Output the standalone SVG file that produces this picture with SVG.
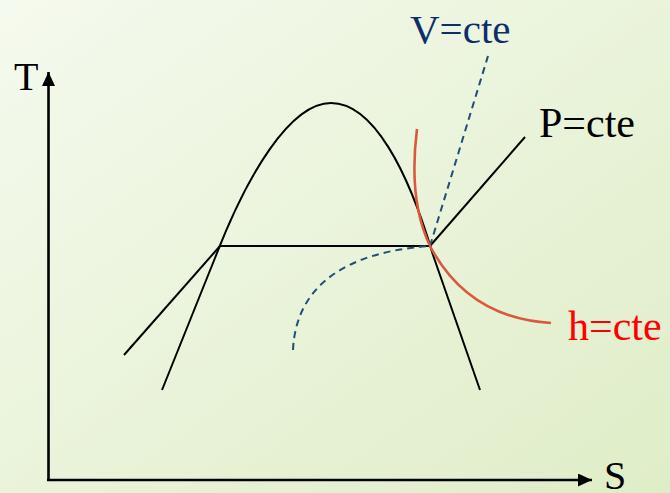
<svg xmlns="http://www.w3.org/2000/svg" width="670" height="493" viewBox="0 0 670 493">
<defs>
<linearGradient id="bg" x1="0" y1="0" x2="1" y2="1">
<stop offset="0" stop-color="#f5faee"/>
<stop offset="1" stop-color="#dfedc7"/>
</linearGradient>
<marker id="arr" markerUnits="userSpaceOnUse" markerWidth="16" markerHeight="14" refX="14" refY="6.5" orient="auto">
<path d="M0,0 L14,6.5 L0,13 Z" fill="#000"/>
</marker>
<style>
.ln{fill:none;stroke:#000;stroke-width:2}
.ax{fill:none;stroke:#000;stroke-width:2.6}
.lbl{font-family:"Liberation Serif","Times New Roman",serif}
</style>
</defs>
<rect width="670" height="493" fill="url(#bg)"/>
<g id="axes">
<line class="ax" x1="48.5" y1="479" x2="48.5" y2="72" marker-end="url(#arr)"/>
<line class="ax" x1="47" y1="480" x2="592" y2="480" marker-end="url(#arr)"/>
<text class="lbl" x="14" y="90" font-size="40">T</text>
<text class="lbl" x="604" y="489" font-size="40">S</text>
</g>
<g id="dome">
<path class="ln" d="M162,390 L215,258 C247,175 290,103 331,103 C373,103 408,170 433,255 L480,390"/>
</g>
<g id="connectors">
<path class="ln" d="M124,355 L220,246" />
<path class="ln" d="M220,246 L430,246" stroke-width="2.8"/>
<path class="ln" d="M430,246 L525,137"/>
<path fill="none" stroke="#1f4e79" stroke-width="2" stroke-dasharray="7,5" d="M293,350 C296,286 345,252 430,246"/>
<path fill="none" stroke="#1f4e79" stroke-width="2" stroke-dasharray="7,5" d="M430,246 L488,56"/>
<path fill="none" stroke="#d9593c" stroke-width="2.6" d="M417,129 Q408,200 430,246 Q468,318 551,323"/>
</g>
<g id="labels">
<text class="lbl" x="410" y="43" font-size="41" fill="#0e2d6b">V=cte</text>
<text class="lbl" x="539" y="137" font-size="42" fill="#000">P=cte</text>
<text class="lbl" x="568" y="340" font-size="42" fill="#ff0000">h=cte</text>
</g>
</svg>
